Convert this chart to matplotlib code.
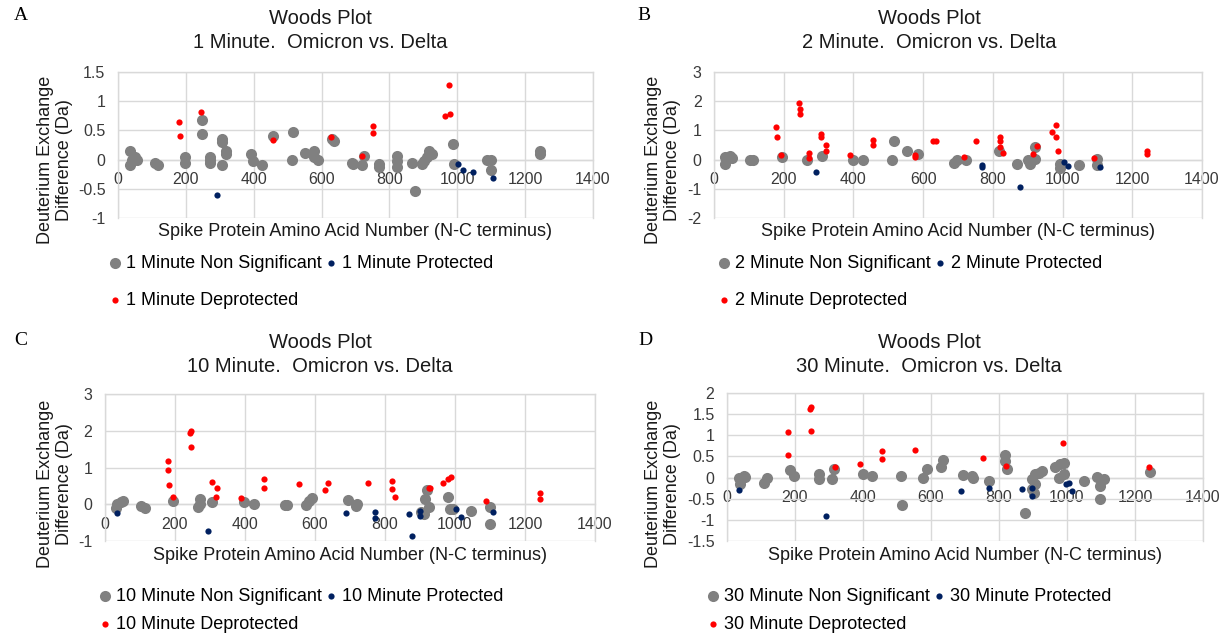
import matplotlib
matplotlib.use("Agg")
import matplotlib.pyplot as plt
from matplotlib.ticker import FuncFormatter

plt.rcParams['font.family'] = ['Liberation Sans', 'DejaVu Sans']
plt.rcParams['axes.unicode_minus'] = False

W, H = 1227, 637

# ---- data ----
# 1 minute
nonsig_x_1 = [35, 35, 42, 50, 55, 109, 118, 197, 197, 249, 249, 270, 270, 272, 307, 307, 307, 317, 317,
              392, 397, 425, 456, 515, 513, 552, 578, 578, 588, 632, 637, 689, 693, 720, 725, 769, 769,
              823, 823, 823, 867, 875, 897, 902, 911, 916, 926, 987, 990, 1088, 1098, 1098, 1245, 1245]
nonsig_y_1 = [0.15, -0.1, 0.0, 0.05, 0.0, -0.05, -0.1, 0.04, -0.05, 0.68, 0.43, 0.04, -0.05, 0.0, 0.35, 0.3,
              -0.09, 0.15, 0.1, 0.1, -0.02, -0.1, 0.4, 0.47, 0.0, 0.12, 0.15, 0.04, 0.0, 0.35, 0.32, -0.05,
              -0.07, -0.1, 0.07, -0.08, -0.13, 0.07, -0.02, -0.13, -0.05, -0.53, -0.07, -0.02, 0.04, 0.15,
              0.1, 0.26, -0.08, 0.0, 0.0, -0.17, 0.15, 0.1]
deprot_x_1 = [179, 184, 245, 456, 628, 718, 752, 752, 965, 978, 977]
deprot_y_1 = [0.65, 0.4, 0.81, 0.34, 0.38, 0.07, 0.57, 0.46, 0.75, 0.78, 1.28]
prot_x_1 = [293, 1002, 1016, 1047, 1104]
prot_y_1 = [-0.6, -0.07, -0.18, -0.22, -0.32]

# 2 minute
nonsig_x_2 = [32, 32, 46, 51, 103, 113, 194, 266, 309, 398, 427, 512, 517, 555, 586, 689, 697, 722, 817,
              869, 902, 907, 921, 920, 994, 994, 1046, 1099, 1099]
nonsig_y_2 = [0.08, -0.15, 0.13, 0.06, -0.03, -0.03, 0.08, 0.0, 0.14, 0.0, 0.0, 0.0, 0.63, 0.3, 0.2, -0.12,
              -0.03, 0.0, 0.3, -0.15, -0.03, -0.15, 0.02, 0.42, -0.15, -0.28, -0.17, 0.02, -0.2]
deprot_x_2 = [178, 182, 192, 243, 247, 247, 272, 272, 308, 308, 321, 321, 391, 455, 455, 577, 577, 629, 637,
              718, 752, 820, 820, 820, 829, 915, 927, 969, 980, 982, 988, 1089, 1242, 1242]
deprot_y_2 = [1.12, 0.76, 0.17, 1.95, 1.73, 1.56, 0.23, 0.06, 0.87, 0.78, 0.51, 0.31, 0.16, 0.67, 0.49, 0.17,
              0.08, 0.63, 0.63, 0.08, 0.63, 0.78, 0.63, 0.42, 0.23, 0.19, 0.45, 0.93, 1.19, 0.76, 0.31, 0.06,
              0.31, 0.19]
prot_x_2 = [293, 768, 768, 877, 1005, 1017, 1108]
prot_y_2 = [-0.43, -0.2, -0.26, -0.94, -0.09, -0.23, -0.26]

# 10 minute
nonsig_x_10 = [30, 35, 45, 52, 103, 113, 194, 266, 271, 271, 307, 397, 426, 515, 521, 575, 582, 590, 694,
               716, 721, 902, 912, 914, 919, 926, 979, 985, 995, 1046, 1099, 1099]
nonsig_y_10 = [-0.1, 0.0, 0.05, 0.1, -0.04, -0.11, 0.1, -0.08, 0.01, 0.15, 0.06, 0.06, 0.0, -0.02, -0.02,
               -0.02, 0.08, 0.17, 0.12, -0.04, 0.01, -0.22, -0.27, 0.15, 0.4, -0.08, 0.19, -0.13, -0.13,
               -0.19, -0.08, -0.53]
deprot_x_10 = [180, 180, 182, 194, 244, 247, 247, 307, 319, 317, 389, 455, 455, 554, 628, 636, 751, 820, 820,
               828, 926, 929, 967, 979, 989, 1089, 1243, 1243]
deprot_y_10 = [1.19, 0.94, 0.52, 0.19, 1.95, 2.0, 1.56, 0.61, 0.43, 0.19, 0.17, 0.68, 0.45, 0.56, 0.4, 0.59,
               0.59, 0.64, 0.41, 0.19, 0.43, 0.45, 0.59, 0.68, 0.73, 0.08, 0.31, 0.13]
prot_x_10 = [34, 293, 689, 770, 770, 869, 900, 900, 876, 1003, 1017, 1108]
prot_y_10 = [-0.25, -0.73, -0.25, -0.2, -0.38, -0.27, -0.18, -0.31, -0.87, -0.13, -0.34, -0.22]

# 30 minute
nonsig_x_30 = [34, 37, 49, 54, 108, 118, 184, 196, 270, 270, 309, 314, 400, 426, 513, 516, 576, 588, 629,
               635, 693, 722, 724, 771, 819, 819, 824, 875, 897, 907, 907, 917, 927, 897, 902, 966, 980,
               990, 975, 990, 1049, 1088, 1108, 1098, 1098, 1243]
nonsig_y_30 = [0.0, -0.16, 0.04, 0.02, -0.12, -0.02, 0.18, 0.04, 0.08, -0.04, -0.04, 0.21, 0.09, 0.04, 0.04,
               -0.66, -0.02, 0.21, 0.24, 0.41, 0.06, 0.04, -0.02, -0.09, 0.4, 0.53, 0.21, -0.83, -0.04,
               -0.16, 0.08, 0.1, 0.16, -0.28, -0.36, 0.26, 0.32, 0.34, 0.0, 0.08, -0.09, 0.02, -0.04, -0.2,
               -0.5, 0.12]
deprot_x_30 = [178, 178, 245, 248, 248, 319, 390, 457, 457, 554, 753, 821, 987, 1242]
deprot_y_30 = [1.07, 0.53, 1.62, 1.66, 1.11, 0.26, 0.33, 0.63, 0.43, 0.65, 0.47, 0.28, 0.81, 0.25]
prot_x_30 = [34, 292, 689, 770, 868, 897, 897, 998, 1005, 1015]
prot_y_30 = [-0.3, -0.91, -0.32, -0.25, -0.26, -0.25, -0.43, -0.16, -0.14, -0.32]

x_ticks = [0, 200, 400, 600, 800, 1000, 1200, 1400]
y_ticks_1 = [-1, -0.5, 0, 0.5, 1, 1.5]
y_ticks_2 = [-2, -1, 0, 1, 2, 3]
y_ticks_10 = [-1, 0, 1, 2, 3]
y_ticks_30 = [-1.5, -1, -0.5, 0, 0.5, 1, 1.5, 2]

GRAY = '#808080'
NAVY = '#002060'
RED = '#ff0000'
GRID = '#d9d9d9'
TXT = '#3a3a3a'

# panel layout in pixels: axes box (left, top, right, bottom), title centre x, title y, ylabel x, ylabel y,
# legend left/top + row spacing, panel letter position
panels = [
    dict(letter='A', minute='1', data=(nonsig_x_1, nonsig_y_1, prot_x_1, prot_y_1, deprot_x_1, deprot_y_1),
         yticks=y_ticks_1, box=(118, 72, 593, 218), title_x=320, title_y=19, ylab=(55, 160),
         leg=(108, 255), leg_space=1.1, letter_xy=(21, 15)),
    dict(letter='B', minute='2', data=(nonsig_x_2, nonsig_y_2, prot_x_2, prot_y_2, deprot_x_2, deprot_y_2),
         yticks=y_ticks_2, box=(714, 72, 1202, 218), title_x=929, title_y=19, ylab=(663, 160),
         leg=(717, 255), leg_space=1.1, letter_xy=(644, 15)),
    dict(letter='C', minute='10', data=(nonsig_x_10, nonsig_y_10, prot_x_10, prot_y_10, deprot_x_10, deprot_y_10),
         yticks=y_ticks_10, box=(105, 394, 595, 541), title_x=320, title_y=343, ylab=(55, 484),
         leg=(98, 588), leg_space=0.62, letter_xy=(21, 341)),
    dict(letter='D', minute='30', data=(nonsig_x_30, nonsig_y_30, prot_x_30, prot_y_30, deprot_x_30, deprot_y_30),
         yticks=y_ticks_30, box=(727, 393, 1203, 541), title_x=929, title_y=343, ylab=(663, 484),
         leg=(706, 588), leg_space=0.62, letter_xy=(645, 341)),
]


def fmt(v, pos):
    return '%g' % v


def draw_panel(fig, p):
    l, t, r, b = p['box']
    ax = fig.add_axes([l / W, 1 - b / H, (r - l) / W, (b - t) / H])
    nx, ny, px, py, dx, dy = p['data']
    m = p['minute']

    s_ns = ax.scatter(nx, ny, s=64, color=GRAY, linewidths=0, zorder=3,
                      label=f'{m} Minute Non Significant')
    s_pr = ax.scatter(px, py, s=20, color=NAVY, linewidths=0, zorder=4,
                      label=f'{m} Minute Protected')
    s_de = ax.scatter(dx, dy, s=20, color=RED, linewidths=0, zorder=5,
                      label=f'{m} Minute Deprotected')

    yt = p['yticks']
    ax.set_xlim(0, 1400)
    ax.set_ylim(yt[0], yt[-1])
    ax.set_xticks(x_ticks)
    ax.set_yticks(yt)
    ax.xaxis.set_major_formatter(FuncFormatter(fmt))
    ax.yaxis.set_major_formatter(FuncFormatter(fmt))
    ax.grid(True, color=GRID, linewidth=1.0, zorder=0)
    ax.set_axisbelow(True)

    # Excel style: x axis crosses at 0
    ax.spines['bottom'].set_position(('data', 0))
    for sp in ax.spines.values():
        sp.set_color(GRID)
        sp.set_linewidth(1.0)
    ax.tick_params(length=0, labelsize=11.5, colors=TXT)
    ax.tick_params(axis='x', pad=9)
    ax.tick_params(axis='y', pad=9)

    cx = (l + r) / 2
    fig.text(cx / W, 1 - (b + 14) / H, 'Spike Protein Amino Acid Number (N-C terminus)',
             ha='center', va='center', fontsize=13, color='#1a1a1a')
    fig.text(p['ylab'][0] / W, 1 - p['ylab'][1] / H, 'Deuterium Exchange\nDifference (Da)',
             rotation=90, ha='center', va='center', multialignment='center',
             fontsize=13, color='#1a1a1a', linespacing=1.2)
    fig.text(p['title_x'] / W, 1 - p['title_y'] / H, 'Woods Plot',
             ha='center', va='center', fontsize=14.5, color='#1a1a1a')
    fig.text(p['title_x'] / W, 1 - (p['title_y'] + 24) / H, f'{m} Minute.  Omicron vs. Delta',
             ha='center', va='center', fontsize=14.5, color='#1a1a1a')
    fig.text(p['letter_xy'][0] / W, 1 - p['letter_xy'][1] / H, p['letter'],
             ha='center', va='center', fontsize=14, family='Liberation Serif')

    lx, ly = p['leg']
    fig.legend([s_ns, s_de, s_pr], [s_ns.get_label(), s_de.get_label(), s_pr.get_label()],
               loc='upper left', bbox_to_anchor=(lx / W, 1 - ly / H), bbox_transform=fig.transFigure,
               ncol=2, frameon=False, fontsize=13, borderpad=0, borderaxespad=0,
               handlelength=0.8, handletextpad=0.2, columnspacing=0.1, labelspacing=p['leg_space'],
               scatterpoints=1)


fig = plt.figure(figsize=(W / 100, H / 100), dpi=100)
for p in panels:
    draw_panel(fig, p)

fig.savefig('out.png', dpi=100)
